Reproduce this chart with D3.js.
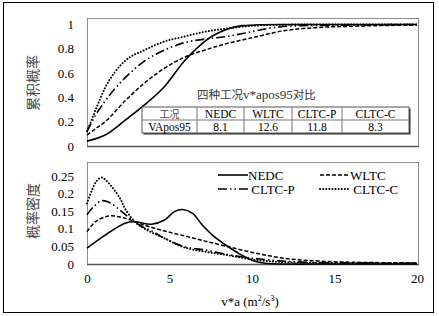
<!DOCTYPE html>
<html><head><meta charset="utf-8">
<script src="https://cdn.jsdelivr.net/npm/d3@7"></script>
<style>body{margin:0;background:#fff;}</style></head>
<body>
<script>
// ---- data ----
const seriesNames = ["NEDC","WLTC","CLTC-P","CLTC-C"];
// cumulative probability (top)
const cdfX_NEDC  = [0,1.1,2.3,3.5,4.7,5.9,6.7,7.6,8.4,9.4,10.5,12,15,20];
const cdfY_NEDC  = [0.04,0.09,0.21,0.34,0.49,0.70,0.81,0.905,0.957,0.99,0.998,1,1,1];
const cdfX_WLTC  = [0,0.5,1.1,2.3,3.5,4.7,5.9,7.15,8.4,10,12,14,16,20];
const cdfY_WLTC  = [0.09,0.14,0.20,0.37,0.52,0.64,0.73,0.79,0.84,0.89,0.95,0.975,0.985,0.995];
const cdfX_CLTCP = [0,0.5,1.1,2.3,3.5,4.7,5.9,7.15,8.4,9.6,11.1,13,16,20];
const cdfY_CLTCP = [0.12,0.25,0.37,0.56,0.70,0.79,0.85,0.88,0.90,0.93,0.97,0.99,0.995,1];
const cdfX_CLTCC = [0,0.5,1.1,1.7,2.3,3.5,4.7,5.9,7.15,8.4,9.6,11,14,20];
const cdfY_CLTCC = [0.12,0.29,0.48,0.61,0.70,0.79,0.86,0.90,0.94,0.965,0.985,0.995,1,1];
// probability density (bottom)
const pdfX_NEDC  = [0,1.1,2.3,2.9,3.9,4.7,5.3,5.8,6.4,7.0,7.6,8.4,9.2,10,10.8,12,15,20];
const pdfY_NEDC  = [0.045,0.082,0.116,0.12,0.113,0.125,0.149,0.155,0.144,0.11,0.082,0.054,0.03,0.011,0.002,0,0,0];
const pdfX_WLTC  = [0,0.5,1.1,1.5,2.3,3.5,4.7,5.9,7.15,8.4,10,12,14,16,20];
const pdfY_WLTC  = [0.092,0.12,0.134,0.137,0.13,0.11,0.094,0.08,0.065,0.051,0.033,0.016,0.0085,0.005,0.003];
const pdfX_CLTCP = [0,0.4,0.9,1.4,2.0,2.6,3.2,4.0,4.7,5.9,7.15,8.4,9.6,10.5,12,14,20];
const pdfY_CLTCP = [0.14,0.163,0.18,0.174,0.153,0.13,0.11,0.092,0.073,0.049,0.04,0.028,0.019,0.014,0.008,0.004,0.002];
const pdfX_CLTCC = [0,0.3,0.6,0.9,1.1,1.5,2.0,2.3,2.9,3.5,4.7,5.9,7.15,8.4,9.6,11,14,20];
const pdfY_CLTCC = [0.172,0.21,0.237,0.246,0.24,0.22,0.187,0.158,0.12,0.10,0.073,0.047,0.035,0.026,0.016,0.008,0.003,0.002];
// table
const tableHeader = ["工况","NEDC","WLTC","CLTC-P","CLTC-C"];
const tableRow    = ["VApos95","8.1","12.6","11.8","8.3"];
const tableTitleA = "四种工况";
const tableTitleB = "v*apos95";
const tableTitleC = "对比";
// ticks
const xTicks = [0,5,10,15,20];
const yTicksTop = [0,0.2,0.4,0.6,0.8,1];
const yTicksBot = [0,0.05,0.1,0.15,0.2,0.25];

// ---- styles ----
const SERIF = "Liberation Serif";
const CJK = "Noto Sans CJK SC";
const dashes = {"NEDC":null,"WLTC":"4,2","CLTC-P":"9,3,1.5,3,1.5,3","CLTC-C":"0.1,3"};
const widths = {"NEDC":1.6,"WLTC":1.5,"CLTC-P":1.6,"CLTC-C":2};

const W=439,H=316;
const svg=d3.select("body").append("svg").attr("width",W).attr("height",H);
svg.append("rect").attr("width",W).attr("height",H).attr("fill","#fff");
svg.append("rect").attr("x",3.5).attr("y",2.5).attr("width",430).attr("height",310)
  .attr("fill","none").attr("stroke","#000").attr("stroke-width",1);

const L=87,R=418;
const x=d3.scaleLinear().domain([0,20]).range([L,417]);
const yT=d3.scaleLinear().domain([0,1.053]).range([146,18]);
const yB=d3.scaleLinear().domain([0,0.29]).range([264,162]);

function frame(top,bottom){
  svg.append("rect").attr("x",L+0.5).attr("y",top+0.5).attr("width",R-L).attr("height",bottom-top)
    .attr("fill","none").attr("stroke","#8c8c8c").attr("stroke-width",1);
  svg.append("line").attr("x1",L).attr("x2",R+1).attr("y1",bottom+0.5).attr("y2",bottom+0.5)
    .attr("stroke","#555").attr("stroke-width",1.6);
}
frame(18,146);
frame(162,264);

function yAxis(scale,ticks){
  const g=svg.append("g").attr("transform",`translate(${L-13},0)`)
    .call(d3.axisLeft(scale).tickValues(ticks).tickSize(0).tickPadding(0).tickFormat(d=>String(d)));
  g.select(".domain").remove();
  g.selectAll("text").attr("font-size",13).attr("fill","#000");
}
yAxis(yT,yTicksTop);
yAxis(yB,yTicksBot);

const gx=svg.append("g").attr("transform",`translate(0,${264+14})`)
  .call(d3.axisBottom(x).tickValues(xTicks).tickSize(0).tickPadding(0));
gx.select(".domain").remove();
gx.selectAll("text").attr("font-size",13).attr("fill","#000").attr("dy","0.35em");

// axis titles
svg.append("text").attr("class","cjk").attr("transform","translate(38,83) rotate(-90)").attr("text-anchor","middle")
  .attr("font-size",14).attr("fill","#444").text("累积概率");
svg.append("text").attr("class","cjk").attr("transform","translate(38,211) rotate(-90)").attr("text-anchor","middle")
  .attr("font-size",14).attr("fill","#444").text("概率密度");
const xt=svg.append("text").attr("x",250).attr("y",306).attr("text-anchor","middle").attr("font-size",13);
xt.append("tspan").text("v*a (m");
xt.append("tspan").attr("font-size",8).attr("dy",-5).text("2");
xt.append("tspan").attr("dy",5).text("/s");
xt.append("tspan").attr("font-size",8).attr("dy",-5).text("3");
xt.append("tspan").attr("dy",5).text(")");

// curves
const cdf={"NEDC":[cdfX_NEDC,cdfY_NEDC],"WLTC":[cdfX_WLTC,cdfY_WLTC],"CLTC-P":[cdfX_CLTCP,cdfY_CLTCP],"CLTC-C":[cdfX_CLTCC,cdfY_CLTCC]};
const pdf={"NEDC":[pdfX_NEDC,pdfY_NEDC],"WLTC":[pdfX_WLTC,pdfY_WLTC],"CLTC-P":[pdfX_CLTCP,pdfY_CLTCP],"CLTC-C":[pdfX_CLTCC,pdfY_CLTCC]};
function draw(set,ys,curve){
  seriesNames.forEach(n=>{
    const [xs,vs]=set[n];
    const pts=xs.map((d,i)=>[d,vs[i]]);
    const line=d3.line().x(d=>x(d[0])).y(d=>ys(d[1])).curve(curve);
    svg.append("path").attr("d",line(pts)).attr("fill","none").attr("stroke","#000")
      .attr("stroke-width",widths[n]).attr("stroke-dasharray",dashes[n])
      .attr("stroke-linecap",n==="CLTC-C"?"round":"butt");
  });
}
draw(cdf,yT,d3.curveMonotoneX);
draw(pdf,yB,d3.curveCatmullRom.alpha(0.5));

// table
const colX=[142,197,244,292,342,409];
const rowY=[107,120,133];
svg.append("rect").attr("x",colX[0]+1.5).attr("y",rowY[0]+1.5).attr("width",colX[5]-colX[0]).attr("height",rowY[2]-rowY[0]).attr("fill","#333");
svg.append("rect").attr("x",colX[0]).attr("y",rowY[0]).attr("width",colX[5]-colX[0]).attr("height",rowY[2]-rowY[0])
  .attr("fill","#fff").attr("stroke","#555").attr("stroke-width",1);
svg.append("line").attr("x1",colX[0]).attr("x2",colX[5]).attr("y1",rowY[1]).attr("y2",rowY[1]).attr("stroke","#777");
colX.slice(1,5).forEach(cx=>svg.append("line").attr("x1",cx).attr("x2",cx).attr("y1",rowY[0]).attr("y2",rowY[2]).attr("stroke","#777"));
[tableHeader,tableRow].forEach((row,r)=>{
  row.forEach((t,i)=>{
    const isCjk = r===0&&i===0;
    svg.append("text").attr("class",isCjk?"cjk":null).attr("x",(colX[i]+colX[i+1])/2).attr("y",(rowY[r]+rowY[r+1])/2+4)
      .attr("text-anchor","middle").attr("font-size",isCjk?10:11.5).attr("fill",isCjk?"#444":"#000").text(t);
  });
});
const tt=svg.append("text").attr("x",197).attr("y",99).attr("font-size",13).attr("fill","#333");
tt.append("tspan").attr("class","cjk").attr("font-size",11.5).text(tableTitleA);
tt.append("tspan").text(tableTitleB);
tt.append("tspan").attr("class","cjk").attr("font-size",11.5).text(tableTitleC);

// legend
const legend=[{n:"NEDC",x:218,y:175,lab:"NEDC"},{n:"WLTC",x:320,y:175,lab:"WLTC"},
              {n:"CLTC-P",x:218,y:189,lab:" CLTC-P"},{n:"CLTC-C",x:320,y:189,lab:" CLTC-C"}];
legend.forEach(l=>{
  svg.append("line").attr("x1",l.x).attr("x2",l.x+30).attr("y1",l.y).attr("y2",l.y)
    .attr("stroke","#000").attr("stroke-width",widths[l.n]).attr("stroke-dasharray",dashes[l.n])
    .attr("stroke-linecap",l.n==="CLTC-C"?"round":"butt");
  svg.append("text").attr("x",l.x+30).attr("y",l.y+4.5).attr("font-size",13)
    .style("white-space","pre").text(l.lab);
});

// apply fonts
svg.selectAll("g").attr("font-family",null);
svg.selectAll("text").attr("font-family",SERIF);
svg.selectAll("tspan").attr("font-family",SERIF);
svg.selectAll(".cjk").attr("font-family",CJK);
</script>
</body></html>
